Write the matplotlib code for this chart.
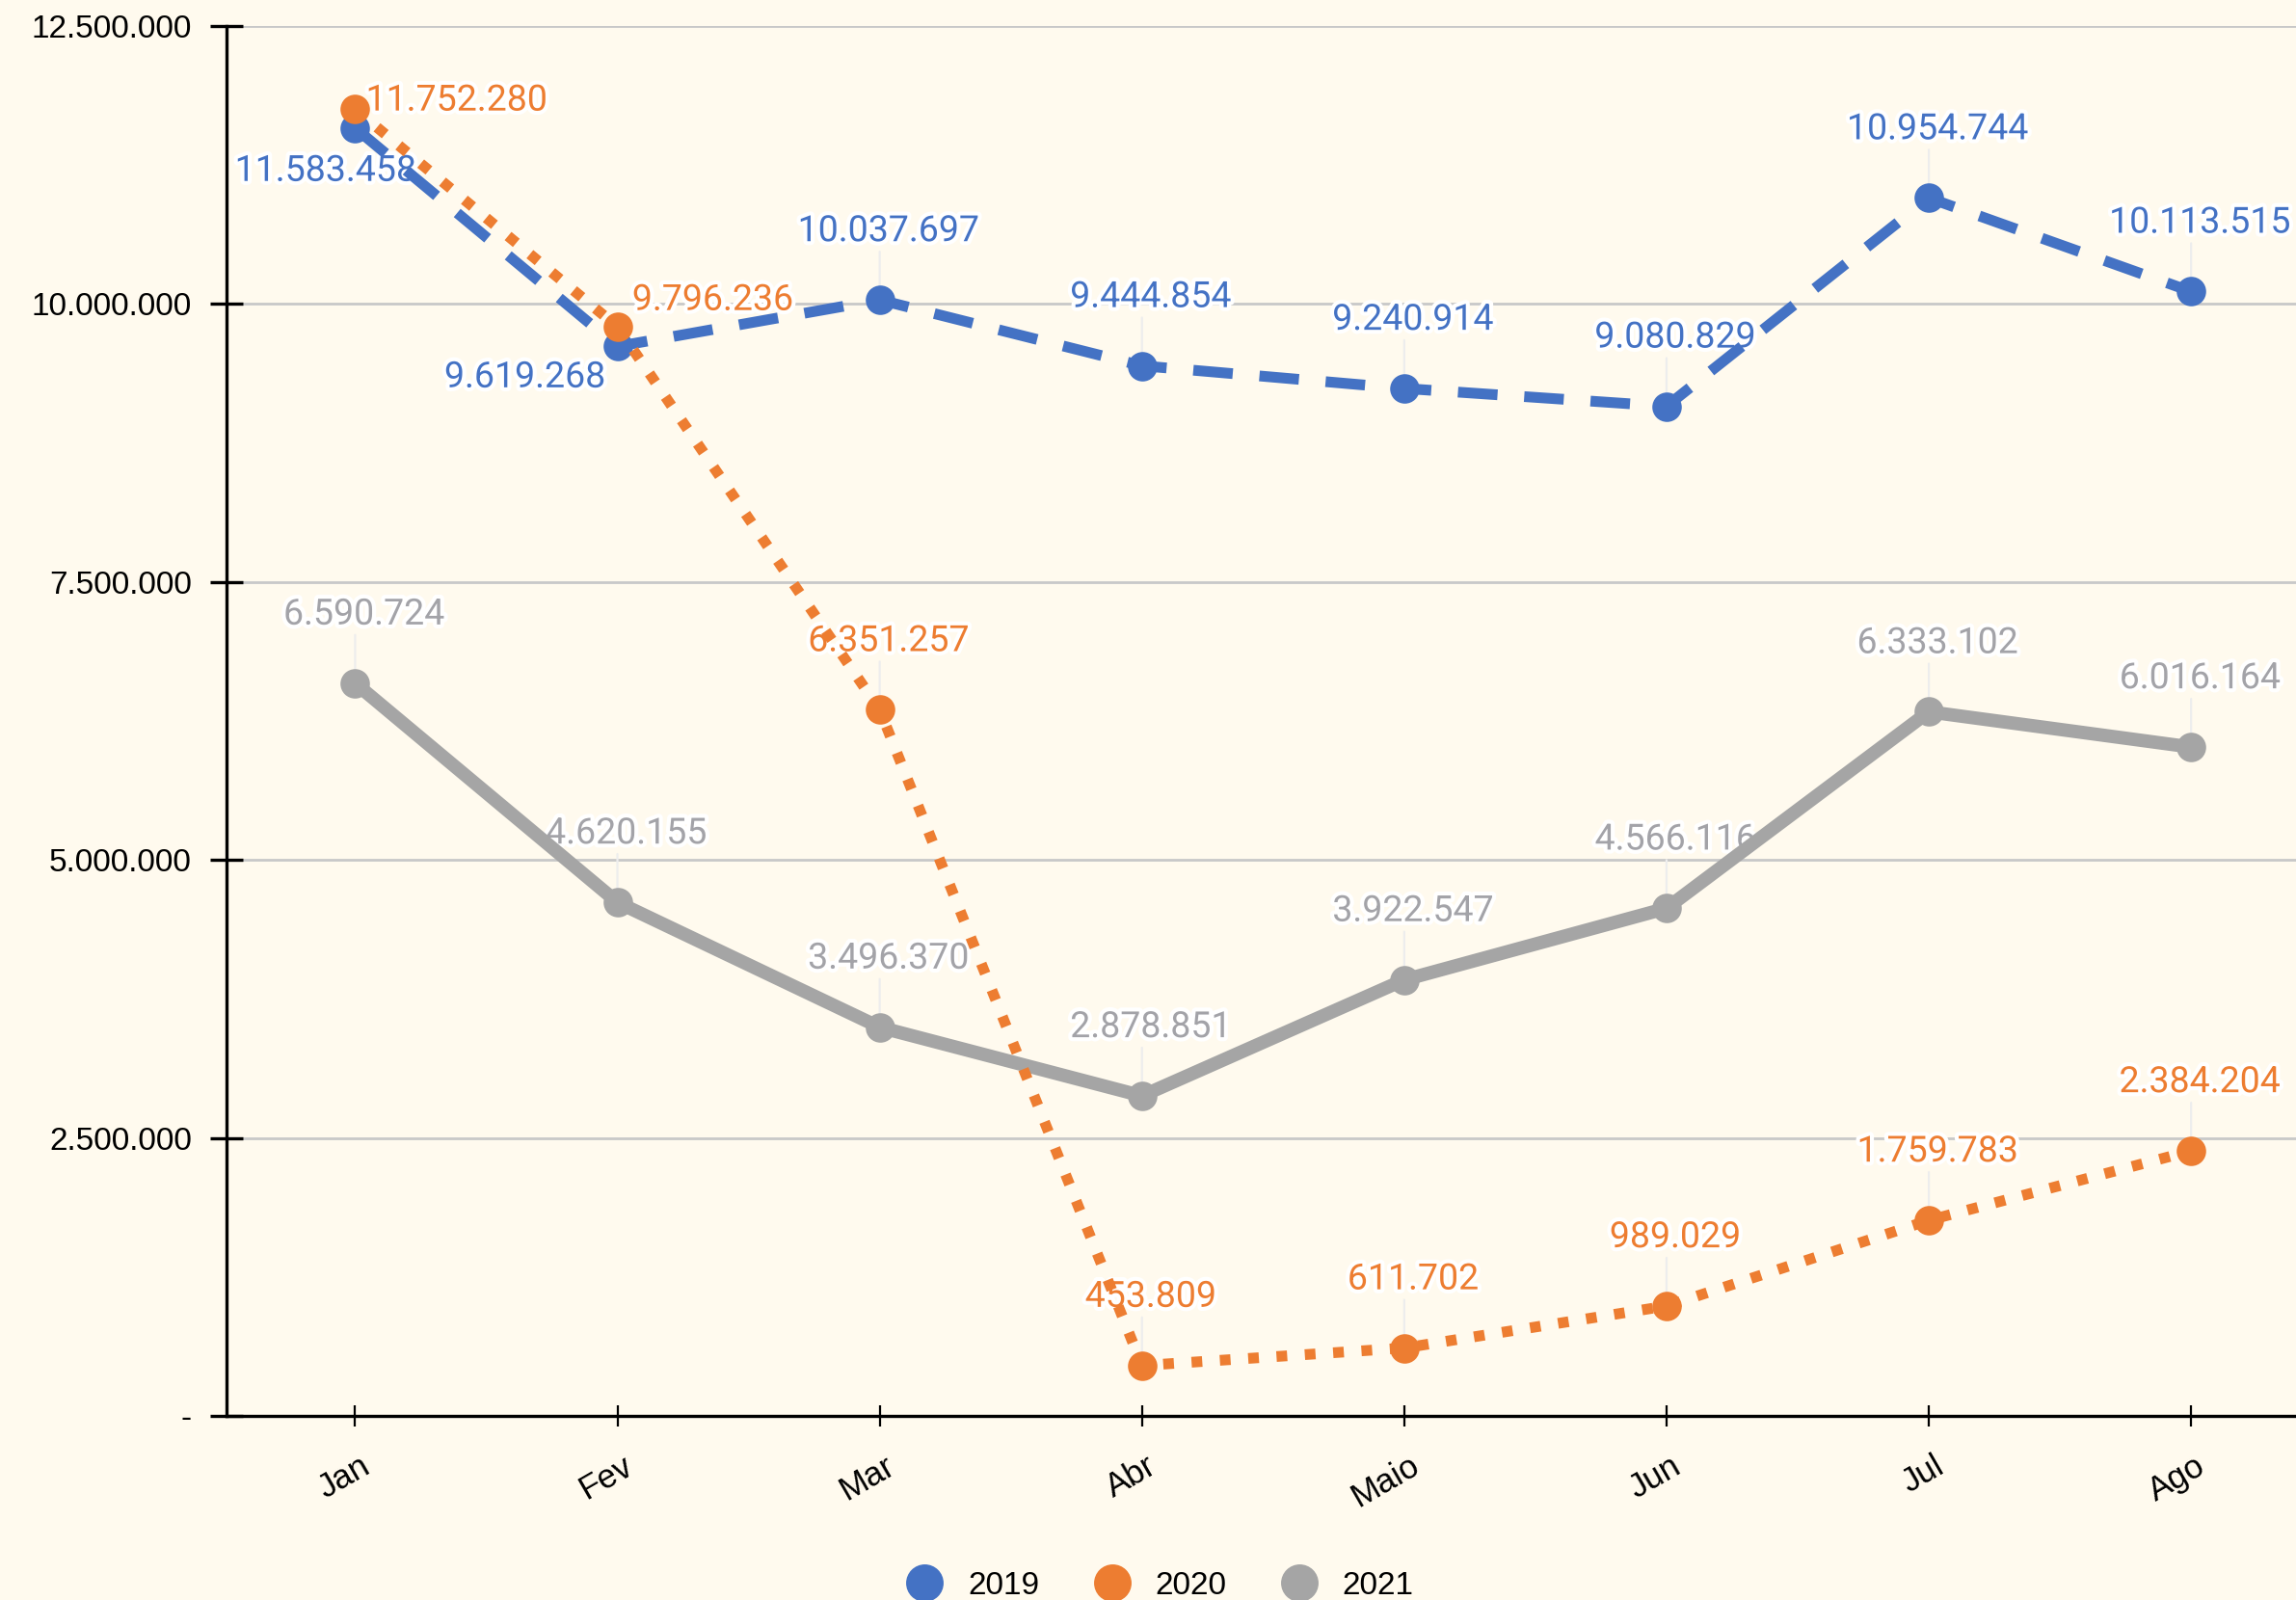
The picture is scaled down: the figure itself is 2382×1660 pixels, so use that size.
import matplotlib
matplotlib.use("Agg")
import matplotlib.pyplot as plt
import matplotlib.patheffects as pe
from matplotlib.lines import Line2D
from matplotlib.ticker import FuncFormatter, MultipleLocator

# dados
meses = ["Jan", "Fev", "Mar", "Abr", "Maio", "Jun", "Jul", "Ago"]
v2019 = [11583458, 9619268, 10037697, 9444854, 9240914, 9080829, 10954744, 10113515]
v2020 = [11752280, 9796236, 6351257, 453809, 611702, 989029, 1759783, 2384204]
v2021 = [6590724, 4620155, 3496370, 2878851, 3922547, 4566116, 6333102, 6016164]

azul = "#4472C4"
laranja = "#ED7D31"
cinza = "#A5A5A5"
fundo = "#FFFAEE"

narrow = ["Liberation Sans Narrow", "Liberation Sans", "DejaVu Sans"]
label_font = ["Roboto", "DejaVu Sans"]


def milhar(v):
    return f"{int(v):,}".replace(",", ".")


def fmt_y(v, pos):
    if v == 0:
        return "-"
    return milhar(v)


fig = plt.figure(figsize=(11.91, 8.30), dpi=200, facecolor=fundo)
ax = fig.add_axes([0.0987, 0.115, 0.9013, 0.8687])
ax.set_facecolor(fundo)

x = list(range(len(meses)))

ax.plot(x, v2019, color=azul, lw=4, dashes=(3.7, 2.5), dash_capstyle="butt",
        marker="o", ms=10, zorder=4, clip_on=False, label="2019")
ax.plot(x, v2021, color=cinza, lw=5, marker="o", ms=10, zorder=5,
        clip_on=False, label="2021")
ax.plot(x, v2020, color=laranja, lw=4, dashes=(1, 1.65), dash_capstyle="butt",
        marker="o", ms=10, zorder=6, clip_on=False, label="2020")

halo = [pe.withStroke(linewidth=3, foreground="white")]

# posicao de cada rotulo (offset em pontos, alinhamento); padrao = acima
acima = ((3.3, 25.7), "center")
especiais = {
    ("2019", 0): ((-11, -16), "center"),
    ("2019", 1): ((-4.4, -11.5), "right"),
    ("2020", 0): ((4, 3.3), "left"),
    ("2020", 1): ((5.5, 10), "left"),
}

series = [("2019", v2019, azul), ("2020", v2020, laranja), ("2021", v2021, "#A3A3A8")]
for nome, vals, cor in series:
    for i, v in enumerate(vals):
        (dx, dy), ha = especiais.get((nome, i), acima)
        if (nome, i) not in especiais:
            ax.annotate("", xy=(i, v), xytext=(0, 18), textcoords="offset points",
                        arrowprops=dict(arrowstyle="-", color="#EDEDED", lw=0.8,
                                        shrinkA=0, shrinkB=4), zorder=2)
        ax.annotate(milhar(v), xy=(i, v), xytext=(dx, dy), textcoords="offset points",
                    ha=ha, va="center", color=cor, fontsize=13.5, family=label_font,
                    path_effects=halo, zorder=3, annotation_clip=False)

ax.set_xlim(-0.49, 7.4)
ax.set_ylim(0, 12500000)
ax.yaxis.set_major_locator(MultipleLocator(2500000))
ax.yaxis.set_major_formatter(FuncFormatter(fmt_y))
ax.set_xticks(x)
ax.set_xticklabels([])
# rotulos dos meses: inclinados, com a ponta direita um pouco a direita do tick
for i, m in enumerate(meses):
    ax.annotate(m, xy=(i, 0), xycoords=("data", "axes fraction"), xytext=(7.5, -12.6),
                textcoords="offset points", ha="right", va="top", rotation=30,
                family=narrow, fontsize=12.5, annotation_clip=False)
for t in ax.get_yticklabels():
    t.set_family(narrow)
ax.tick_params(axis="y", direction="inout", length=12, width=1.2, pad=7,
               labelsize=12, colors="black")
ax.tick_params(axis="x", direction="inout", length=8, width=0.8)

ax.grid(axis="y", color="#C8C8C8", lw=1)
ax.set_axisbelow(True)
for s in ["top", "right"]:
    ax.spines[s].set_visible(False)
ax.spines["left"].set_linewidth(1.2)
ax.spines["bottom"].set_linewidth(1.2)

# legenda so com os marcadores
handles = [Line2D([], [], marker="o", ls="", color=c, ms=13) for c in (azul, laranja, cinza)]
fig.legend(handles, ["2019", "2020", "2021"], loc="center", ncol=3,
           bbox_to_anchor=(0.504, 0.009), frameon=False, handlelength=1.5,
           handletextpad=0.6, columnspacing=1.5, prop={"family": narrow, "size": 12})

fig.savefig("out.png", dpi=200, facecolor=fundo)
